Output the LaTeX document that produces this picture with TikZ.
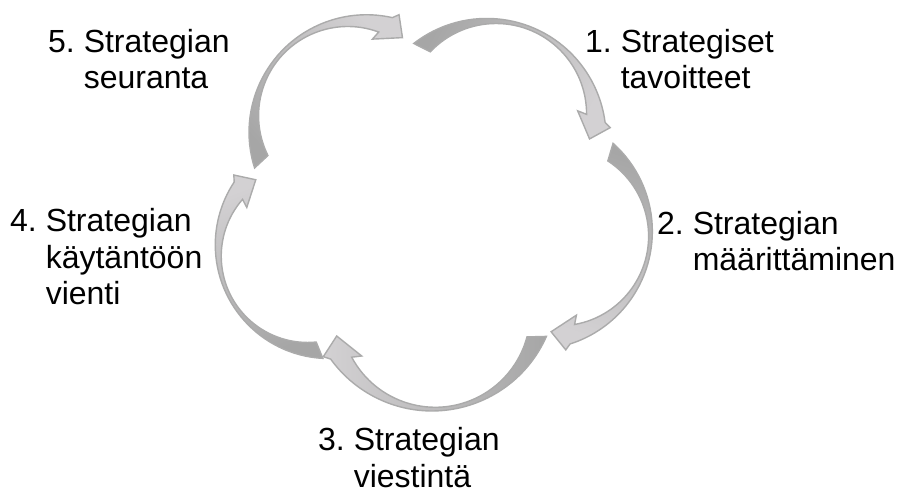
\documentclass[tikz,border=0pt]{standalone}
\usepackage{fontspec}
\setmainfont{Liberation Sans}
\definecolor{arrowdark}{HTML}{A6A6A6}
\definecolor{arrowlight}{HTML}{D3D1D3}
\definecolor{arrowline}{HTML}{ABABAB}

\begin{document}
\begin{tikzpicture}[x=1pt, y=1pt,
  cyclearrow/.style={draw=arrowline, line width=1.4pt, line join=miter,
    left color=arrowlight, middle color=arrowdark!90!arrowlight, right color=arrowdark},
  steplabel/.style={anchor=base west, align=left, inner sep=0pt,
    font=\fontsize{32}{36.5}\selectfont}
]
  \useasboundingbox (0,0) rectangle (897,-494);

  % curved arrows: one shape, start cut at the origin, head towards -x
  \foreach \px/\py/\ang/\sc in {537.5/-337/0/1, 319.5/-351/-69.3/0.91,
      260.5/-162/-138.5/0.94, 421.5/-47/151.6/0.954, 611/-151.5/71.9/0.946}
  {
    \pgfmathsetmacro\shadeang{90+\ang}
    \begin{scope}[shift={(\px,\py)}, rotate=\ang, scale=\sc]
      \path[cyclearrow, shading angle=\shadeang]
        (8.9,0.6) arc[start angle=-23.8, end angle=-144.2, radius=125]
        -- (-214.2,-19.7) -- (-200.8,1) -- (-175.8,-19)
        -- (-185.8,-20.2) arc[start angle=-151.8, end angle=-15, radius=94.9]
        -- cycle;
    \end{scope}
  }

  % labels, placed at the baseline of their last line
  \node[steplabel] (s1) at (585,-89) {1.\ Strategiset\\\phantom{1.\ }tavoitteet};
  \node[steplabel] (s2) at (657,-271) {2.\ Strategian\\\phantom{2.\ }määrittäminen};
  \node[steplabel] (s3) at (318,-487) {3.\ Strategian\\\phantom{3.\ }viestintä};
  \node[steplabel] (s4) at (10,-305) {4.\ Strategian\\\phantom{4.\ }käytäntöön\\\phantom{4.\ }vienti};
  \node[steplabel] (s5) at (48,-89) {5.\ Strategian\\\phantom{5.\ }seuranta};
\end{tikzpicture}
\end{document}
